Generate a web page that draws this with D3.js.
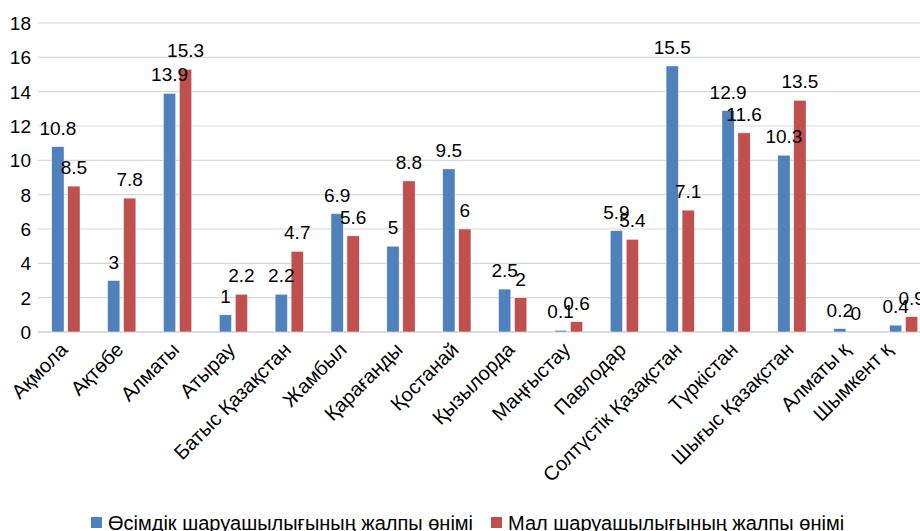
<!DOCTYPE html>
<html><head><meta charset="utf-8">
<script src="https://cdn.jsdelivr.net/npm/d3@7"></script>
<style>body{margin:0;background:#fff}svg{display:block;font-family:"Liberation Sans",Arial,sans-serif}</style>
</head><body>
<svg id="c" width="920" height="531"></svg>
<script>
const categories = ["Ақмола","Ақтөбе","Алматы","Атырау","Батыс Қазақстан","Жамбыл","Қарағанды","Қостанай","Қызылорда","Маңғыстау","Павлодар","Солтүстік Қазақстан","Түркістан","Шығыс Қазақстан","Алматы қ","Шымкент қ"];
const seriesNames = ["Өсімдік шаруашылығының жалпы өнімі","Мал шаруашылығының жалпы өнімі"];
const cropValues = [10.8,3,13.9,1,2.2,6.9,5,9.5,2.5,0.1,5.9,15.5,12.9,10.3,0.2,0.4];
const livestockValues = [8.5,7.8,15.3,2.2,4.7,5.6,8.8,6,2,0.6,5.4,7.1,11.6,13.5,0,0.9];
const yTicks = [0,2,4,6,8,10,12,14,16,18];
const colors = ["#4F81BD","#C0504D"];

const svg = d3.select("#c");
const y = d3.scaleLinear().domain([0,18]).range([332,23]);
const x0 = d3.scaleBand().domain(categories).range([37.9,931.5]);
const bw = x0.bandwidth();
const x1 = d3.scaleBand().domain(seriesNames).range([bw/2-14.1, bw/2+14.2]).paddingInner(0.23);

// gridlines
svg.append("g").selectAll("line").data(yTicks).join("line")
  .attr("x1",37.9).attr("x2",931.5)
  .attr("y1",d=>y(d)).attr("y2",d=>y(d))
  .attr("stroke",d=>d===0?"#d0d0d0":"#d9d9d9").attr("stroke-width",d=>d===0?1.5:1.2);

// y tick labels
svg.append("g").selectAll("text").data(yTicks).join("text")
  .attr("x",31).attr("y",d=>y(d)).attr("dy","0.36em")
  .attr("text-anchor","end").attr("font-size",19).attr("fill","#000")
  .text(d=>d);

const rows = categories.map((c,i)=>({cat:c, vals:[cropValues[i], livestockValues[i]]}));
const g = svg.append("g").selectAll("g").data(rows).join("g")
  .attr("transform",d=>`translate(${x0(d.cat)},0)`);
g.selectAll("rect").data(d=>d.vals.map((v,k)=>({v,k}))).join("rect")
  .attr("x",d=>x1(seriesNames[d.k])).attr("width",x1.bandwidth())
  .attr("y",d=>y(d.v)).attr("height",d=>y(0)-y(d.v))
  .attr("fill",d=>colors[d.k]).attr("stroke","#fff").attr("stroke-width",0.5);
g.selectAll("text.v").data(d=>d.vals.map((v,k)=>({v,k}))).join("text")
  .attr("class","v")
  .attr("x",d=>x1(seriesNames[d.k])+x1.bandwidth()/2)
  .attr("y",d=>y(d.v)-12)
  .attr("text-anchor","middle").attr("font-size",19).attr("fill","#000")
  .text(d=>d.v);

// x labels (kept inside the visible width)
svg.append("g").selectAll("text").data(categories).join("text")
  .attr("transform",d=>`translate(${Math.min(x0(d)+bw/2+3,893)},351) rotate(-45)`)
  .attr("text-anchor","end").attr("font-size",20).attr("fill","#000")
  .text(d=>d);

// legend
const leg = [{x:91,t:seriesNames[0],c:colors[0]},{x:491,t:seriesNames[1],c:colors[1]}];
const lg = svg.append("g").selectAll("g").data(leg).join("g");
lg.append("rect").attr("x",d=>d.x).attr("y",517).attr("width",11).attr("height",11).attr("fill",d=>d.c);
lg.append("text").attr("x",d=>d.x+17).attr("y",529.5).attr("font-size",20).attr("fill","#000").text(d=>d.t);
</script>
</body></html>
